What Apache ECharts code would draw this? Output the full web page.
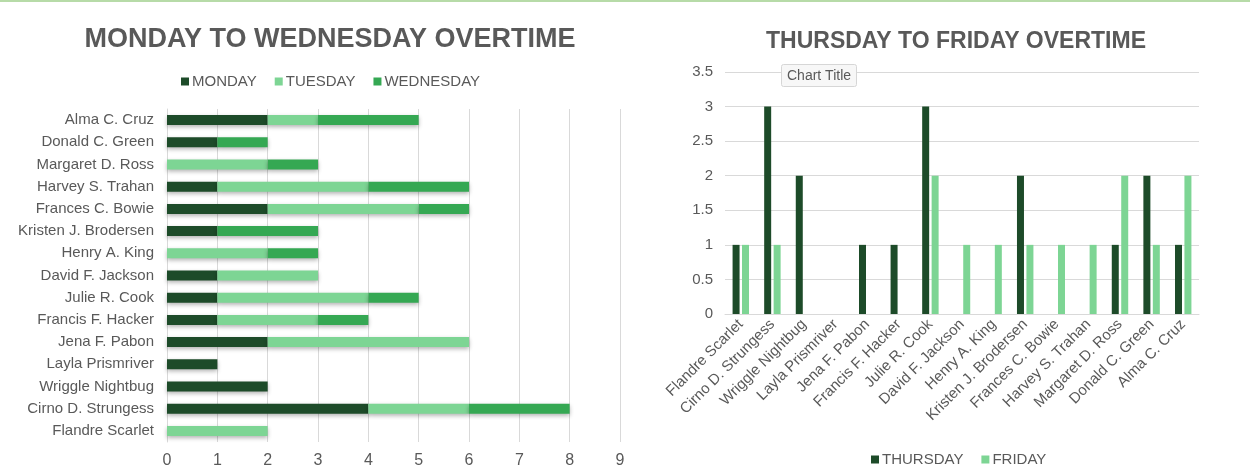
<!DOCTYPE html>
<html>
<head>
<meta charset="utf-8">
<script src="https://cdn.jsdelivr.net/npm/echarts@6/dist/echarts.min.js"></script>
<style>
  html, body { margin: 0; padding: 0; background: #fff; }
  #main { width: 1250px; height: 471px; }
</style>
</head>
<body>
<div id="main"></div>
<script>
// names, bottom-to-top on the left chart, left-to-right on the right chart
var names = ["Flandre Scarlet", "Cirno D. Strungess", "Wriggle Nightbug", "Layla Prismriver",
    "Jena F. Pabon", "Francis F. Hacker", "Julie R. Cook", "David F. Jackson", "Henry A. King",
    "Kristen J. Brodersen", "Frances C. Bowie", "Harvey S. Trahan", "Margaret D. Ross",
    "Donald C. Green", "Alma C. Cruz"];
var monday    = [0, 4, 2, 1, 2, 1, 1, 1, 0, 1, 2, 1, 0, 1, 2];
var tuesday   = [2, 2, 0, 0, 4, 2, 3, 2, 2, 0, 3, 3, 2, 0, 1];
var wednesday = [0, 2, 0, 0, 0, 1, 1, 0, 1, 2, 1, 2, 1, 1, 2];
var thursday  = [1, 3, 2, 0, 1, 1, 3, 0, 0, 2, 0, 0, 1, 2, 1];
var friday    = [1, 1, 0, 0, 0, 0, 2, 1, 1, 1, 1, 1, 2, 1, 2];

var cDark = "#1d4b29", cLight = "#7dd594", cMid = "#35a853";
var txt = "#595959", gridC = "#d9d9d9";
var font = "Liberation Sans";

var myChart = echarts.init(document.getElementById("main"));

function hbar(name, data, color) {
    return {
        name: name, type: "bar", stack: "mtw", xAxisIndex: 0, yAxisIndex: 0,
        barWidth: "45%", data: data,
        itemStyle: { color: color, shadowBlur: 4, shadowColor: "rgba(0,0,0,0.3)", shadowOffsetY: 2 }
    };
}
function vbar(name, data, color) {
    return {
        name: name, type: "bar", xAxisIndex: 1, yAxisIndex: 1,
        barWidth: 7, barGap: "35%", data: data,
        itemStyle: { color: color }
    };
}

var option = {
    animation: false,
    textStyle: { fontFamily: font },
    title: [
        { text: "MONDAY TO WEDNESDAY OVERTIME", left: 325, top: 21, textAlign: "center",
          textStyle: { color: txt, fontSize: 27, fontWeight: "bold", fontFamily: font } },
        { text: "THURSDAY TO FRIDAY OVERTIME", left: 951, top: 25, textAlign: "center",
          textStyle: { color: txt, fontSize: 23, fontWeight: "bold", fontFamily: font } },
        { text: "Chart Title", left: 781, top: 64, padding: [5, 6, 4, 6],
          borderWidth: 1, borderColor: "#d6d6d6", backgroundColor: "#f7f7f7", borderRadius: 2,
          textStyle: { color: txt, fontSize: 14, fontWeight: "normal", fontFamily: font } }
    ],
    legend: [
        { data: ["MONDAY", "TUESDAY", "WEDNESDAY"], left: 176, top: 69,
          itemWidth: 8, itemHeight: 8, itemGap: 18, icon: "rect",
          textStyle: { color: txt, fontSize: 15, fontFamily: font, padding: [0, 0, 0, -2] } },
        { data: ["THURSDAY", "FRIDAY"], left: 866, top: 447,
          itemWidth: 8, itemHeight: 8, itemGap: 18, icon: "rect",
          textStyle: { color: txt, fontSize: 15, fontFamily: font, padding: [0, 0, 0, -2] } }
    ],
    grid: [
        { left: 167, width: 453, top: 109, height: 333 },
        { left: 725, width: 474, top: 72, height: 242 }
    ],
    xAxis: [
        { gridIndex: 0, type: "value", min: 0, max: 9, interval: 1,
          axisLine: { show: false }, axisTick: { show: false },
          axisLabel: { color: txt, fontSize: 16, margin: 11 },
          splitLine: { lineStyle: { color: gridC } } },
        { gridIndex: 1, type: "category", data: names,
          axisLine: { lineStyle: { color: gridC } }, axisTick: { show: false },
          axisLabel: { color: txt, fontSize: 15, rotate: 45, interval: 0, margin: 8 } }
    ],
    yAxis: [
        { gridIndex: 0, type: "category", data: names,
          axisLine: { lineStyle: { color: gridC } }, axisTick: { show: false },
          axisLabel: { color: txt, fontSize: 15, margin: 13 } },
        { gridIndex: 1, type: "value", min: 0, max: 3.5, interval: 0.5,
          axisLine: { show: false }, axisTick: { show: false },
          axisLabel: { color: txt, fontSize: 15, margin: 12 },
          splitLine: { lineStyle: { color: gridC } } }
    ],
    graphic: [
        { type: "rect", left: 0, top: 0, shape: { width: 1250, height: 2 },
          style: { fill: "#b7dba8" }, z: 100 }
    ],
    series: [
        hbar("MONDAY", monday, cDark),
        hbar("TUESDAY", tuesday, cLight),
        hbar("WEDNESDAY", wednesday, cMid),
        vbar("THURSDAY", thursday, cDark),
        vbar("FRIDAY", friday, cLight)
    ]
};
myChart.setOption(option);
window.addEventListener("resize", function () {
    myChart.resize();
});
</script>
</body>
</html>
